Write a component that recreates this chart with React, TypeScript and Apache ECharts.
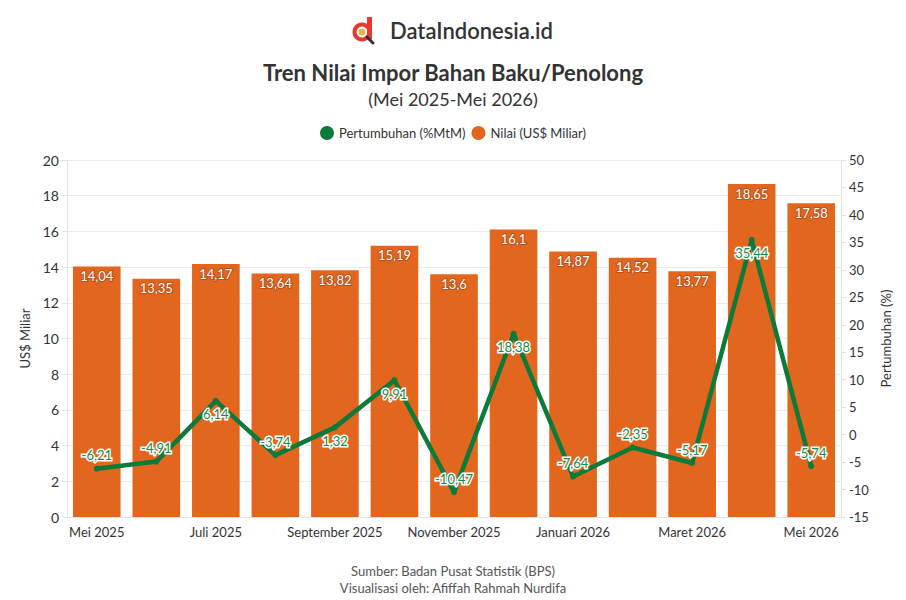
import React, { useEffect, useRef } from "react";
import * as echarts from "echarts";

const months = [
  "Mei 2025", "Juni 2025", "Juli 2025", "Agustus 2025", "September 2025",
  "Oktober 2025", "November 2025", "Desember 2025", "Januari 2026",
  "Februari 2026", "Maret 2026", "April 2026", "Mei 2026",
];
const nilai = [14.04, 13.35, 14.17, 13.64, 13.82, 15.19, 13.6, 16.1, 14.87, 14.52, 13.77, 18.65, 17.58];
const pertumbuhan = [-6.21, -4.91, 6.14, -3.74, 1.32, 9.91, -10.47, 18.38, -7.64, -2.35, -5.17, 35.44, -5.74];

const ORANGE = "#e2661d";
const GREEN = "#0b7a3a";
const FONT = "Lato, 'Noto Sans', sans-serif";

const fmt = (v: number) => String(v).replace(".", ",");

export default function App() {
  const ref = useRef<HTMLDivElement>(null);

  useEffect(() => {
    if (!ref.current) return;
    const chart = echarts.init(ref.current, undefined, { renderer: "svg" });
    chart.setOption({
      animation: false,
      backgroundColor: "#ffffff",
      textStyle: { fontFamily: FONT },
      title: [
        {
          text: "Tren Nilai Impor Bahan Baku/Penolong",
          left: "center",
          top: 56,
          textStyle: { fontSize: 22, fontWeight: "bold", color: "#333", fontFamily: FONT },
        },
        {
          text: "(Mei 2025-Mei 2026)",
          left: "center",
          top: 85,
          textStyle: { fontSize: 18, fontWeight: "normal", color: "#333", fontFamily: FONT },
        },
        {
          text: "Sumber: Badan Pusat Statistik (BPS)",
          left: "center",
          top: 559,
          textStyle: { fontSize: 13, fontWeight: "normal", color: "#555", fontFamily: FONT },
        },
        {
          text: "Visualisasi oleh: Afiffah Rahmah Nurdifa",
          left: "center",
          top: 576,
          textStyle: { fontSize: 13, fontWeight: "normal", color: "#555", fontFamily: FONT },
        },
      ],
      graphic: [
        // logo mark: red "d" with a magnifier
        { type: "rect", shape: { x: 367, y: 17, width: 5, height: 22 }, style: { fill: "#e53935" } },
        { type: "circle", shape: { cx: 362, cy: 32, r: 7.5 }, style: { fill: "none", stroke: "#e53935", lineWidth: 4 } },
        { type: "circle", shape: { cx: 362, cy: 32, r: 3.5 }, style: { fill: "#f2b33d" } },
        { type: "line", shape: { x1: 367, y1: 37, x2: 373, y2: 43 }, style: { stroke: "#333", lineWidth: 3, lineCap: "round" } },
        {
          type: "text",
          x: 390,
          y: 19,
          style: { text: "DataIndonesia.id", fontSize: 22, fontWeight: 600, fill: "#333", fontFamily: FONT },
        },
      ],
      legend: {
        top: 121,
        left: "center",
        itemWidth: 14,
        itemHeight: 14,
        itemGap: 6,
        icon: "circle",
        textStyle: { fontSize: 13, color: "#333", fontFamily: FONT },
        data: [
          { name: "Pertumbuhan (%MtM)", itemStyle: { color: GREEN } },
          { name: "Nilai (US$ Miliar)", itemStyle: { color: ORANGE } },
        ],
      },
      grid: { left: 67, right: 65, top: 160, bottom: 83, containLabel: false },
      xAxis: {
        type: "category",
        data: months,
        axisLine: { lineStyle: { color: "#e3e3e3" } },
        axisTick: { alignWithLabel: true, length: 5, lineStyle: { color: "#e3e3e3" } },
        axisLabel: { interval: 1, fontSize: 13, color: "#333", margin: 8, fontFamily: FONT },
      },
      yAxis: [
        {
          type: "value",
          min: 0,
          max: 20,
          interval: 2,
          name: "US$ Miliar",
          nameLocation: "middle",
          nameGap: 32,
          nameTextStyle: { fontSize: 13, color: "#333", fontFamily: FONT },
          axisLine: { show: true, lineStyle: { color: "#e3e3e3" } },
          axisTick: { show: true, length: 5, lineStyle: { color: "#e3e3e3" } },
          axisLabel: { fontSize: 14, color: "#333", margin: 8, fontFamily: FONT },
          splitLine: { lineStyle: { color: "#ececec" } },
        },
        {
          type: "value",
          min: -15,
          max: 50,
          interval: 5,
          name: "Pertumbuhan (%)",
          nameLocation: "middle",
          nameGap: 36,
          nameTextStyle: { fontSize: 13, color: "#333", fontFamily: FONT },
          axisLine: { show: true, lineStyle: { color: "#e3e3e3" } },
          axisTick: { show: true, length: 5, lineStyle: { color: "#e3e3e3" } },
          axisLabel: { fontSize: 13, color: "#333", margin: 8, fontFamily: FONT },
          splitLine: { show: false },
        },
      ],
      series: [
        {
          name: "Nilai (US$ Miliar)",
          type: "bar",
          yAxisIndex: 0,
          z: 2,
          barCategoryGap: "20%",
          itemStyle: { color: ORANGE },
          data: nilai,
          label: {
            show: true,
            position: "insideTop",
            distance: 3,
            fontSize: 13,
            color: "#fff",
            textBorderColor: "#b8521a",
            textBorderWidth: 2,
            fontFamily: FONT,
            formatter: (p: any) => fmt(p.value),
          },
        },
        {
          name: "Pertumbuhan (%MtM)",
          type: "line",
          yAxisIndex: 1,
          z: 3,
          symbol: "circle",
          symbolSize: 6,
          itemStyle: { color: GREEN },
          lineStyle: { color: GREEN, width: 4.5 },
          data: pertumbuhan.map((v) => ({
            value: v,
            label: { position: v >= 0 ? "bottom" : "top" },
          })),
          label: {
            show: true,
            distance: 4,
            fontSize: 13,
            color: "#178a4a",
            textBorderColor: "#ffffff",
            textBorderWidth: 3,
            fontFamily: FONT,
            formatter: (p: any) => fmt(p.value),
          },
        },
      ],
    });
    return () => chart.dispose();
  }, []);

  return <div ref={ref} style={{ width: 906, height: 600, position: "absolute", left: 0, top: 0 }} />;
}
